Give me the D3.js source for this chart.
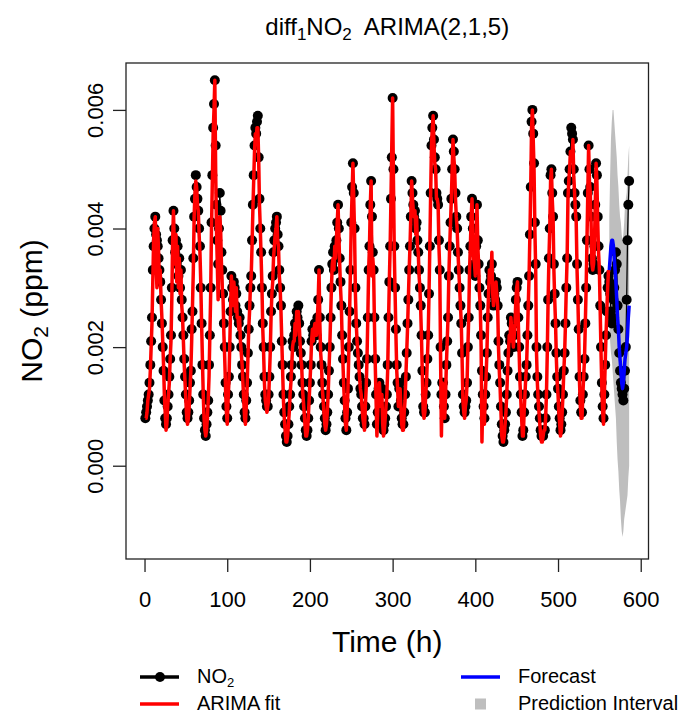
<!DOCTYPE html>
<html>
<head>
<meta charset="utf-8">
<script src="https://cdn.jsdelivr.net/npm/d3@7"></script>
<style>
  body { margin: 0; background: #fff; }
  text { font-family: "Liberation Sans", Arial, sans-serif; fill: #000; }
</style>
</head>
<body>
<div id="chart"></div>
<script>
// all concentrations below are in units of 1e-4 ppm, hour index starts at 1
var UNIT = 1e-4;

// observed NO2, hours 1..586
var no2 = [
  8, 9, 10, 11, 12, 14, 17, 21, 25, 33, 37, 40, 42, 39, 38, 37, 35, 33, 31, 28, 24, 20, 16, 11,
  8, 7, 8, 10, 12, 15, 18, 22, 30, 38, 43, 40, 36, 38, 34, 37, 32, 35, 30, 33, 28, 25, 22, 18,
  15, 12, 9, 8, 9, 11, 14, 16, 23, 26, 35, 42, 45, 49, 47, 45, 43, 40, 37, 30, 24, 17, 12, 8,
  6, 5, 7, 9, 11, 17, 22, 30, 41, 49, 57, 61, 65, 54, 44, 38, 34, 40, 46, 43, 36, 33, 29, 24,
  20, 14, 10, 8, 12, 15, 20, 26, 32, 30, 28, 31, 30, 27, 29, 26, 25, 24, 25, 22, 20, 17, 15, 12,
  9, 8, 11, 14, 19, 23, 27, 30, 32, 38, 44, 49, 54, 57, 56, 58, 59, 52, 45, 40, 36, 30, 24, 20,
  15, 12, 11, 10, 10, 12, 15, 20, 26, 29, 32, 36, 38, 40, 41, 42, 39, 37, 33, 30, 27, 21, 17, 12,
  9, 7, 5, 4, 5, 7, 10, 12, 15, 17, 21, 20, 22, 24, 23, 26, 25, 27, 24, 21, 19, 17, 14, 12,
  10, 8, 6, 5, 6, 8, 11, 14, 17, 21, 23, 22, 23, 24, 23, 22, 25, 28, 33, 25, 20, 17, 14, 12,
  10, 8, 6, 7, 9, 12, 16, 20, 25, 30, 34, 36, 33, 37, 36, 38, 41, 44, 40, 35, 31, 27, 22, 18,
  14, 11, 8, 6, 9, 13, 20, 26, 33, 41, 47, 51, 46, 40, 30, 24, 21, 19, 17, 15, 13, 12, 10, 8,
  8, 7, 10, 14, 18, 25, 33, 37, 44, 48, 42, 36, 33, 25, 18, 12, 7, 9, 13, 14, 12, 10, 13, 8,
  6, 7, 8, 10, 12, 17, 25, 31, 37, 45, 52, 62, 50, 37, 30, 23, 17, 14, 10, 13, 14, 11, 8, 7,
  7, 9, 12, 15, 19, 24, 28, 33, 37, 42, 48, 46, 44, 42, 43, 40, 41, 38, 36, 33, 30, 27, 22, 16,
  10, 9, 9, 12, 14, 18, 22, 29, 37, 46, 54, 57, 59, 55, 52, 50, 46, 45, 44, 38, 33, 20, 12, 14,
  14, 10, 8, 12, 17, 21, 25, 32, 37, 41, 45, 50, 55, 53, 50, 46, 42, 40, 36, 33, 30, 27, 24, 19,
  12, 10, 9, 10, 11, 14, 20, 25, 33, 37, 42, 45, 40, 36, 34, 32, 37, 44, 38, 34, 30, 27, 22, 16,
  12, 10, 8, 12, 15, 19, 25, 29, 33, 31, 32, 34, 30, 27, 29, 28, 31, 30, 27, 21, 17, 14, 10, 7,
  5, 4, 6, 7, 9, 12, 16, 19, 22, 21, 25, 24, 22, 20, 22, 24, 28, 30, 31, 25, 20, 15, 12, 9,
  5, 6, 9, 12, 15, 17, 22, 27, 32, 39, 47, 58, 60, 56, 51, 41, 34, 20, 15, 12, 10, 8, 6, 5,
  5, 5, 6, 6, 8, 12, 20, 28, 35, 40, 49, 50, 46, 42, 34, 29, 24, 19, 15, 13, 10, 8, 6, 7,
  9, 12, 16, 19, 24, 30, 35, 46, 48, 50, 53, 57, 56, 55, 50, 46, 44, 42, 34, 28, 23, 15, 11, 9,
  9, 12, 15, 18, 24, 30, 38, 46, 54, 50, 47, 42, 35, 33, 34, 37, 44, 51, 49, 42, 37, 33, 27, 20,
  14, 10, 8, 12, 17, 22, 26, 30, 32,
  31, 29, 26, 24, 25, 28, 30, 33, 36, 34, 27, 23, 19, 16, 14, 13, 12, 11, 13, 16, 20, 28, 38, 44, 48
];

// ARIMA(2,1,5) in-sample fit, hours 1..561
var fit = [
  8, 8, 9, 11, 12, 13, 16, 20, 24, 31, 38, 41, 42, 34, 30, 40, 36, 31, 33, 28, 25, 21, 17, 12,
  9, 6, 7, 10, 12, 14, 18, 21, 28, 38, 43, 37, 34, 39, 31, 37, 30, 35, 29, 33, 27, 25, 21, 17,
  14, 11, 8, 7, 8, 10, 13, 16, 21, 27, 33, 42, 46, 48, 47, 44, 43, 39, 36, 31, 24, 18, 12, 8,
  6, 5, 6, 8, 11, 15, 22, 29, 40, 48, 56, 60, 65, 50, 40, 34, 28, 38, 42, 40, 34, 30, 28, 22,
  18, 13, 9, 7, 11, 14, 20, 26, 32, 29, 27, 31, 29, 26, 30, 25, 25, 23, 25, 21, 19, 17, 14, 11,
  8, 7, 10, 13, 18, 23, 26, 30, 32, 37, 43, 48, 53, 56, 55, 57, 57, 52, 44, 40, 35, 30, 23, 19,
  14, 11, 10, 9, 10, 11, 15, 19, 25, 29, 31, 35, 37, 39, 40, 42, 38, 37, 32, 30, 26, 21, 16, 11,
  8, 6, 4, 4, 5, 7, 9, 12, 14, 17, 20, 21, 21, 24, 22, 26, 24, 26, 24, 21, 18, 17, 13, 11,
  9, 7, 5, 5, 6, 8, 11, 14, 17, 21, 23, 21, 23, 24, 22, 22, 25, 28, 33, 24, 19, 17, 13, 11,
  9, 7, 6, 7, 9, 12, 16, 20, 25, 30, 34, 35, 33, 37, 35, 38, 41, 44, 39, 34, 30, 27, 21, 17,
  13, 10, 7, 6, 9, 13, 19, 26, 33, 41, 46, 51, 45, 39, 29, 24, 21, 19, 17, 15, 13, 12, 10, 8,
  7, 6, 10, 13, 18, 25, 33, 37, 44, 48, 32, 35, 33, 24, 17, 11, 5, 9, 13, 14, 11, 10, 12, 7,
  5, 6, 8, 10, 12, 16, 24, 31, 37, 45, 54, 62, 48, 36, 29, 22, 16, 13, 10, 13, 13, 10, 7, 6,
  6, 9, 11, 15, 19, 23, 28, 33, 37, 42, 48, 45, 43, 42, 43, 39, 42, 37, 36, 32, 30, 26, 21, 15,
  9, 8, 9, 12, 14, 18, 22, 29, 37, 46, 54, 57, 59, 54, 51, 50, 45, 45, 44, 37, 33, 18, 5, 14,
  13, 10, 8, 12, 17, 21, 25, 32, 37, 41, 45, 50, 55, 52, 50, 45, 42, 40, 36, 33, 30, 27, 24, 18,
  11, 9, 8, 10, 11, 14, 20, 25, 33, 37, 42, 45, 39, 35, 34, 32, 37, 44, 37, 34, 29, 27, 20, 4,
  11, 9, 7, 12, 15, 19, 25, 29, 33, 31, 32, 36, 29, 27, 29, 28, 31, 29, 27, 20, 16, 13, 9, 5,
  4, 4, 5, 7, 9, 12, 16, 19, 22, 21, 25, 23, 22, 20, 22, 24, 28, 30, 31, 24, 19, 14, 11, 8,
  5, 5, 9, 12, 15, 17, 22, 27, 32, 39, 47, 57, 60, 55, 50, 40, 33, 19, 14, 11, 9, 7, 5, 4,
  4, 5, 6, 6, 8, 12, 19, 28, 35, 40, 48, 50, 45, 42, 33, 28, 24, 18, 14, 12, 9, 7, 5, 6,
  9, 12, 16, 19, 24, 30, 35, 45, 48, 50, 53, 53, 52, 55, 49, 46, 43, 41, 33, 28, 22, 14, 10, 8,
  8, 12, 15, 18, 24, 30, 38, 46, 54, 48, 46, 41, 34, 33, 34, 37, 44, 51, 48, 41, 36, 33, 26, 19,
  13, 9, 7, 12, 17, 22, 26, 30, 33
];

// 25-step forecast following the fit, with prediction interval
var forecast = [33, 35, 37, 38, 38, 37, 35, 33, 31, 28, 25, 23, 20, 18, 16, 14, 13, 14, 16, 18, 19, 20, 22, 25, 27];
var piLower  = [24, 21, 19, 18, 16, 14, 12, 10, 8, 4, 1, -1, -4, -6, -9, -11, -12, -11, -9, -8, -7, -6, -5, -2, 0];
var piUpper  = [42, 49, 55, 58, 60, 60, 58, 56, 54, 52, 49, 47, 44, 42, 41, 39, 38, 39, 41, 44, 45, 46, 49, 52, 54];

var xTicks = [0, 100, 200, 300, 400, 500, 600];
var yTicks = [0, 0.002, 0.004, 0.006];

var margin = {top: 63, right: 31.5, bottom: 154, left: 126},
    width = 680 - margin.left - margin.right,
    height = 713 - margin.top - margin.bottom;

var svg = d3.select("#chart").append("svg")
    .attr("width", 680)
    .attr("height", 713);

svg.append("rect").attr("width", 680).attr("height", 713).attr("fill", "#fff");

var g = svg.append("g").attr("transform", "translate(" + margin.left + "," + margin.top + ")");

// R style 4% padding on the x range
var xExt = [1, no2.length];
var pad = (xExt[1] - xExt[0]) * 0.04;
var x = d3.scaleLinear().domain([xExt[0] - pad, xExt[1] + pad]).range([0, width]);
var y = d3.scaleLinear().domain([-0.001573, 0.006791]).range([height, 0]);

var fcStart = fit.length + 1;

var obsData = no2.map(function(v, i) { return {h: i + 1, v: v * UNIT}; });
var fitData = fit.map(function(v, i) { return {h: i + 1, v: v * UNIT}; });
var fcData = forecast.map(function(v, i) {
  return {h: fcStart + i, v: v * UNIT, lo: piLower[i] * UNIT, hi: piUpper[i] * UNIT};
});

// prediction interval band
g.append("path")
    .datum(fcData)
    .attr("fill", "#bebebe")
    .attr("d", d3.area()
      .x(function(d) { return x(d.h); })
      .y0(function(d) { return y(d.lo); })
      .y1(function(d) { return y(d.hi); }));

// observed series (line + points)
g.append("path")
    .datum(obsData)
    .attr("fill", "none")
    .attr("stroke", "#000")
    .attr("stroke-width", 1.3)
    .attr("d", d3.line().x(function(d) { return x(d.h); }).y(function(d) { return y(d.v); }));

g.append("g")
  .selectAll("circle")
  .data(obsData)
  .enter().append("circle")
    .attr("cx", function(d) { return x(d.h); })
    .attr("cy", function(d) { return y(d.v); })
    .attr("r", 5)
    .attr("fill", "#000");

// fitted values
g.append("path")
    .datum(fitData)
    .attr("fill", "none")
    .attr("stroke", "#ff0000")
    .attr("stroke-width", 3.5)
    .attr("stroke-linejoin", "round")
    .attr("d", d3.line().x(function(d) { return x(d.h); }).y(function(d) { return y(d.v); }));

// forecast
g.append("path")
    .datum(fcData)
    .attr("fill", "none")
    .attr("stroke", "#0000ff")
    .attr("stroke-width", 3.5)
    .attr("stroke-linejoin", "round")
    .attr("d", d3.line().x(function(d) { return x(d.h); }).y(function(d) { return y(d.v); }));

// axes
var xAxis = g.append("g")
    .attr("transform", "translate(0," + height + ")")
    .call(d3.axisBottom(x).tickValues(xTicks).tickSize(13).tickSizeOuter(0));
xAxis.select(".domain").remove();
xAxis.selectAll("line").attr("stroke", "#222").attr("stroke-width", 1.3);
xAxis.selectAll("text")
    .attr("y", 48).attr("dy", null)
    .attr("font-size", 22)
    .style("font-family", "'Liberation Sans', Arial, sans-serif");

var yAxis = g.append("g")
    .call(d3.axisLeft(y).tickValues(yTicks).tickFormat(d3.format(".3f")).tickSize(13).tickSizeOuter(0));
yAxis.select(".domain").remove();
yAxis.selectAll("line").attr("stroke", "#222").attr("stroke-width", 1.3);
yAxis.selectAll("text")
    .attr("transform", "rotate(-90)")
    .attr("x", 0).attr("y", -23).attr("dy", null)
    .attr("text-anchor", "middle")
    .attr("font-size", 22)
    .style("font-family", "'Liberation Sans', Arial, sans-serif");

// plot box
g.append("rect")
    .attr("width", width).attr("height", height)
    .attr("fill", "none").attr("stroke", "#222").attr("stroke-width", 1.3);

// title
var title = svg.append("text")
    .attr("x", margin.left + width / 2).attr("y", 35)
    .attr("text-anchor", "middle").attr("font-size", 24);
title.append("tspan").text("diff");
title.append("tspan").attr("dy", 5).attr("font-size", 17).text("1");
title.append("tspan").attr("dy", -5).text("NO");
title.append("tspan").attr("dy", 5).attr("font-size", 17).text("2");
title.append("tspan").attr("dy", -5).attr("xml:space", "preserve").text("  ARIMA(2,1,5)");

// axis titles
svg.append("text")
    .attr("x", margin.left + width / 2).attr("y", 652)
    .attr("text-anchor", "middle").attr("font-size", 30)
    .text("Time (h)");

var yt = svg.append("text")
    .attr("transform", "translate(42," + (margin.top + height / 2) + ") rotate(-90)")
    .attr("text-anchor", "middle").attr("font-size", 30);
yt.append("tspan").text("NO");
yt.append("tspan").attr("dy", 6).attr("font-size", 21).text("2");
yt.append("tspan").attr("dy", -6).text(" (ppm)");

// legend
var legend = svg.append("g").attr("font-size", 20);

legend.append("line").attr("x1", 140).attr("x2", 179).attr("y1", 677).attr("y2", 677)
    .attr("stroke", "#000").attr("stroke-width", 3.5);
legend.append("circle").attr("cx", 160).attr("cy", 677).attr("r", 5).attr("fill", "#000");
var l1 = legend.append("text").attr("x", 197).attr("y", 683);
l1.append("tspan").text("NO");
l1.append("tspan").attr("dy", 4).attr("font-size", 13).text("2");

legend.append("line").attr("x1", 140).attr("x2", 179).attr("y1", 704).attr("y2", 704)
    .attr("stroke", "#ff0000").attr("stroke-width", 3.5);
legend.append("text").attr("x", 197).attr("y", 709.5).text("ARIMA fit");

legend.append("line").attr("x1", 461).attr("x2", 500).attr("y1", 677).attr("y2", 677)
    .attr("stroke", "#0000ff").attr("stroke-width", 3.5);
legend.append("text").attr("x", 518).attr("y", 683).text("Forecast");

legend.append("rect").attr("x", 475).attr("y", 698.5).attr("width", 11).attr("height", 11)
    .attr("fill", "#bebebe");
legend.append("text").attr("x", 518).attr("y", 709.5).text("Prediction Interval");
</script>
</body>
</html>
